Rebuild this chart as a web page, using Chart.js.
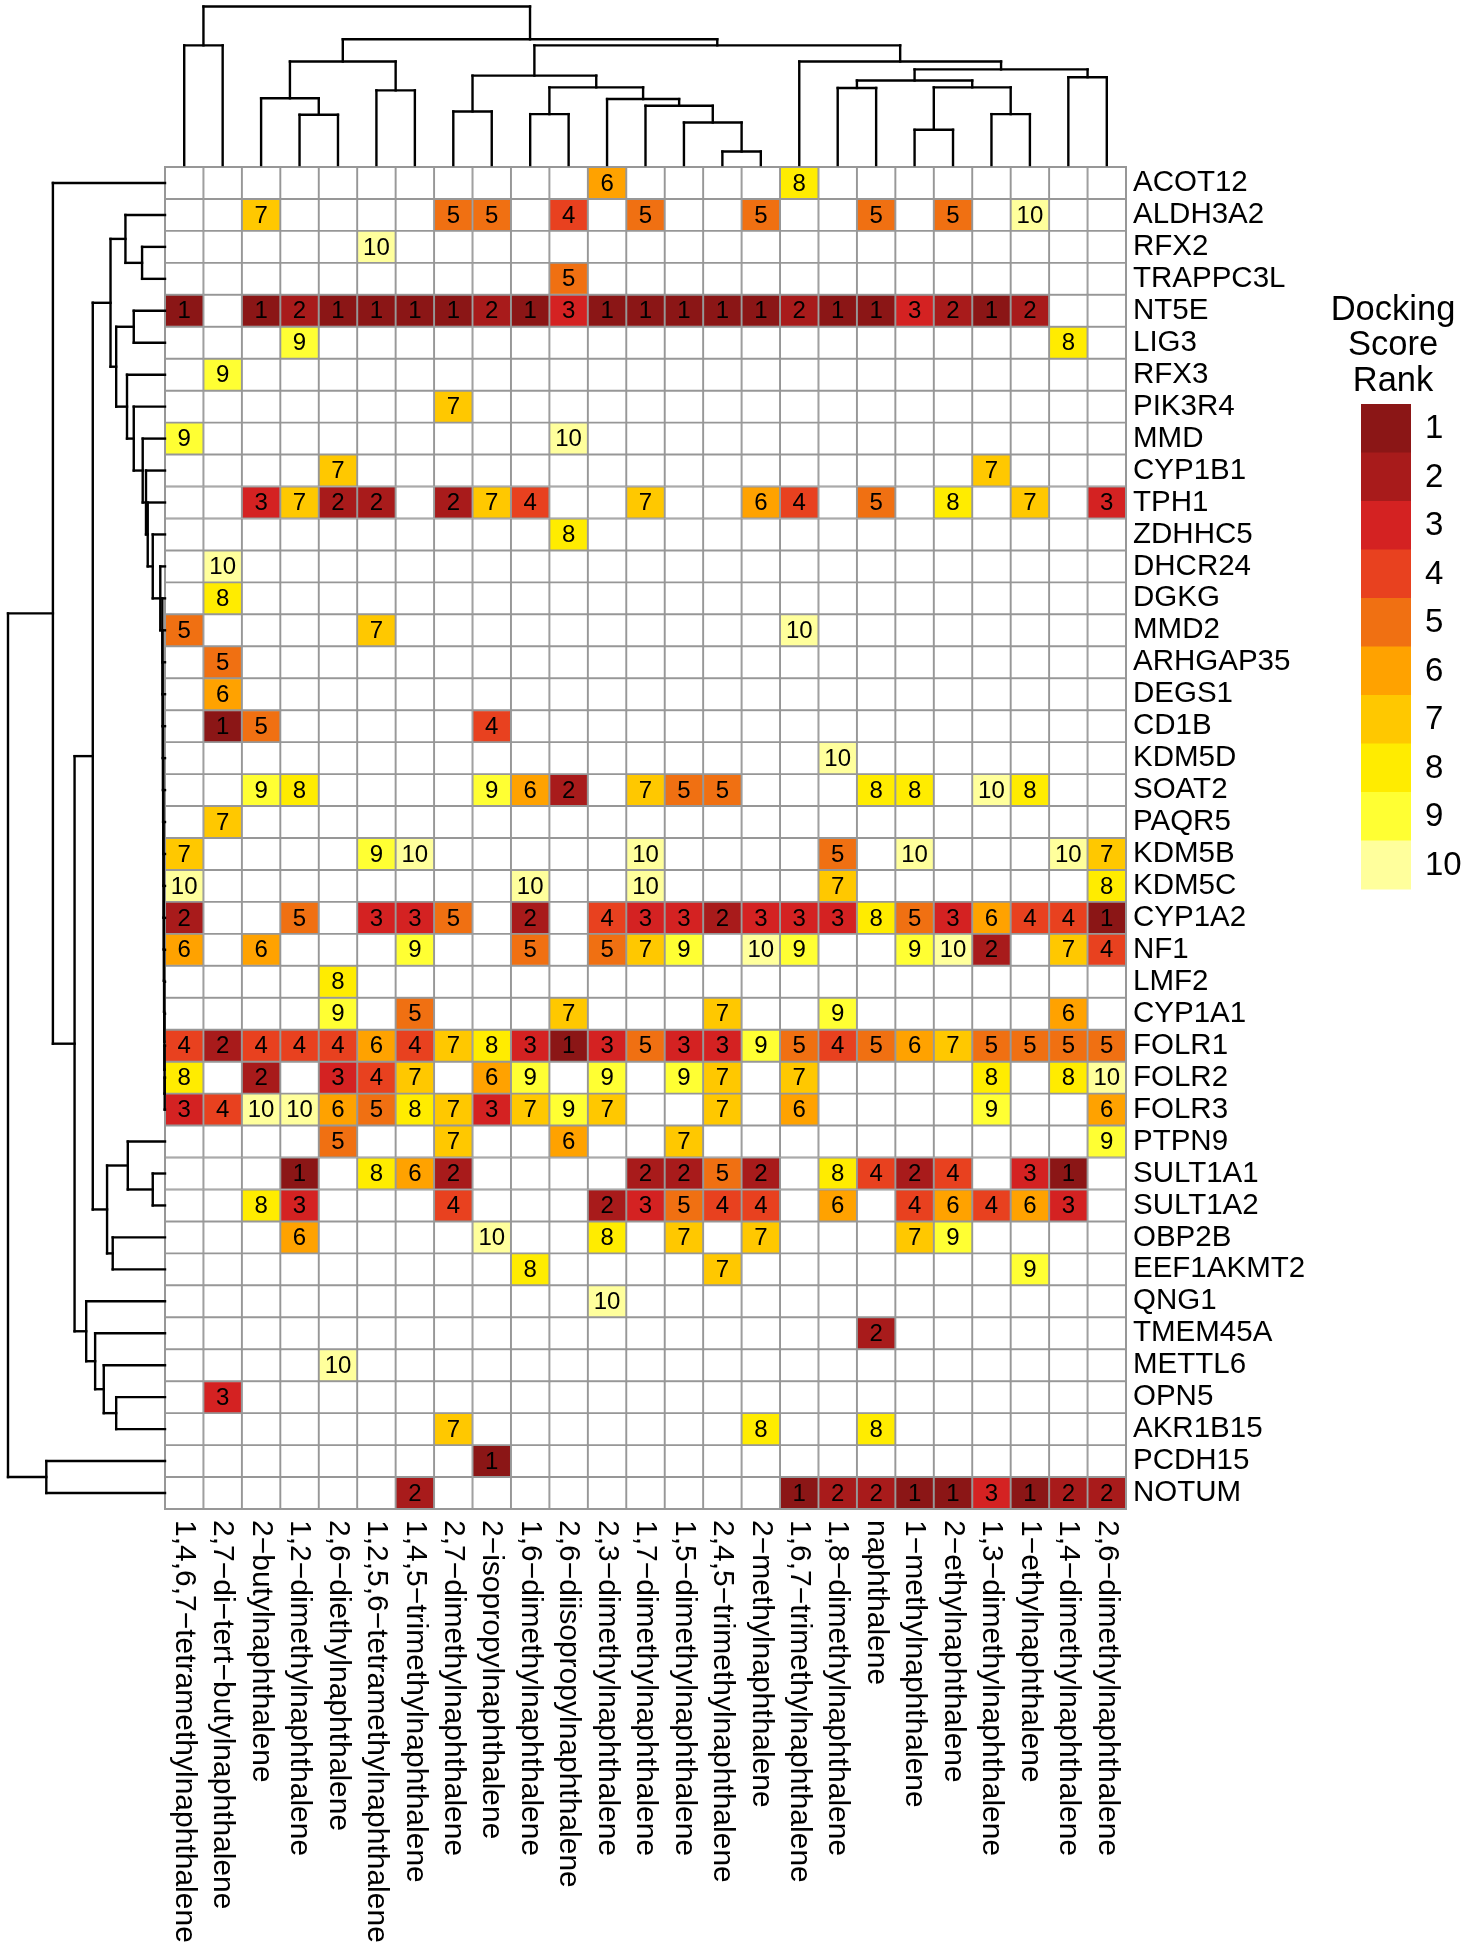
<!DOCTYPE html>
<html>
<head>
<meta charset="utf-8">
<title>Docking score rank heatmap</title>
<script src="https://cdn.jsdelivr.net/npm/chart.js@4.4.1/dist/chart.umd.min.js"></script>
<style>
  html, body { margin: 0; padding: 0; background: #ffffff; overflow: hidden; }
  canvas { display: block; }
</style>
</head>
<body>
<canvas id="heatmap" width="1470" height="1950"></canvas>
<script>
// Columns (compounds), in dendrogram order
const compounds = [
    '1,4,6,7−tetramethylnaphthalene', '2,7−di−tert−butylnaphthalene', '2−butylnaphthalene',
    '1,2−dimethylnaphthalene', '2,6−diethylnaphthalene', '1,2,5,6−tetramethylnaphthalene',
    '1,4,5−trimethylnaphthalene', '2,7−dimethylnaphthalene', '2−isopropylnaphthalene',
    '1,6−dimethylnaphthalene', '2,6−diisopropylnaphthalene', '2,3−dimethylnaphthalene',
    '1,7−dimethylnaphthalene', '1,5−dimethylnaphthalene', '2,4,5−trimethylnaphthalene',
    '2−methylnaphthalene', '1,6,7−trimethylnaphthalene', '1,8−dimethylnaphthalene',
    'naphthalene', '1−methylnaphthalene', '2−ethylnaphthalene', '1,3−dimethylnaphthalene',
    '1−ethylnaphthalene', '1,4−dimethylnaphthalene', '2,6−dimethylnaphthalene'
];

// Rows (target genes), in dendrogram order
const genes = [
    'ACOT12', 'ALDH3A2', 'RFX2', 'TRAPPC3L', 'NT5E', 'LIG3', 'RFX3', 'PIK3R4', 'MMD',
    'CYP1B1', 'TPH1', 'ZDHHC5', 'DHCR24', 'DGKG', 'MMD2', 'ARHGAP35', 'DEGS1', 'CD1B',
    'KDM5D', 'SOAT2', 'PAQR5', 'KDM5B', 'KDM5C', 'CYP1A2', 'NF1', 'LMF2', 'CYP1A1',
    'FOLR1', 'FOLR2', 'FOLR3', 'PTPN9', 'SULT1A1', 'SULT1A2', 'OBP2B', 'EEF1AKMT2',
    'QNG1', 'TMEM45A', 'METTL6', 'OPN5', 'AKR1B15', 'PCDH15', 'NOTUM'
];

// Docking score rank per gene (row) and compound (column); _ = not in top 10
const _ = null;
const ranks = [
    [_,_,_,_,_,_,_,_,_,_,_,6,_,_,_,_,8,_,_,_,_,_,_,_,_],        // ACOT12
    [_,_,7,_,_,_,_,5,5,_,4,_,5,_,_,5,_,_,5,_,5,_,10,_,_],       // ALDH3A2
    [_,_,_,_,_,10,_,_,_,_,_,_,_,_,_,_,_,_,_,_,_,_,_,_,_],       // RFX2
    [_,_,_,_,_,_,_,_,_,_,5,_,_,_,_,_,_,_,_,_,_,_,_,_,_],        // TRAPPC3L
    [1,_,1,2,1,1,1,1,2,1,3,1,1,1,1,1,2,1,1,3,2,1,2,_,_],        // NT5E
    [_,_,_,9,_,_,_,_,_,_,_,_,_,_,_,_,_,_,_,_,_,_,_,8,_],        // LIG3
    [_,9,_,_,_,_,_,_,_,_,_,_,_,_,_,_,_,_,_,_,_,_,_,_,_],        // RFX3
    [_,_,_,_,_,_,_,7,_,_,_,_,_,_,_,_,_,_,_,_,_,_,_,_,_],        // PIK3R4
    [9,_,_,_,_,_,_,_,_,_,10,_,_,_,_,_,_,_,_,_,_,_,_,_,_],       // MMD
    [_,_,_,_,7,_,_,_,_,_,_,_,_,_,_,_,_,_,_,_,_,7,_,_,_],        // CYP1B1
    [_,_,3,7,2,2,_,2,7,4,_,_,7,_,_,6,4,_,5,_,8,_,7,_,3],        // TPH1
    [_,_,_,_,_,_,_,_,_,_,8,_,_,_,_,_,_,_,_,_,_,_,_,_,_],        // ZDHHC5
    [_,10,_,_,_,_,_,_,_,_,_,_,_,_,_,_,_,_,_,_,_,_,_,_,_],       // DHCR24
    [_,8,_,_,_,_,_,_,_,_,_,_,_,_,_,_,_,_,_,_,_,_,_,_,_],        // DGKG
    [5,_,_,_,_,7,_,_,_,_,_,_,_,_,_,_,10,_,_,_,_,_,_,_,_],       // MMD2
    [_,5,_,_,_,_,_,_,_,_,_,_,_,_,_,_,_,_,_,_,_,_,_,_,_],        // ARHGAP35
    [_,6,_,_,_,_,_,_,_,_,_,_,_,_,_,_,_,_,_,_,_,_,_,_,_],        // DEGS1
    [_,1,5,_,_,_,_,_,4,_,_,_,_,_,_,_,_,_,_,_,_,_,_,_,_],        // CD1B
    [_,_,_,_,_,_,_,_,_,_,_,_,_,_,_,_,_,10,_,_,_,_,_,_,_],       // KDM5D
    [_,_,9,8,_,_,_,_,9,6,2,_,7,5,5,_,_,_,8,8,_,10,8,_,_],       // SOAT2
    [_,7,_,_,_,_,_,_,_,_,_,_,_,_,_,_,_,_,_,_,_,_,_,_,_],        // PAQR5
    [7,_,_,_,_,9,10,_,_,_,_,_,10,_,_,_,_,5,_,10,_,_,_,10,7],    // KDM5B
    [10,_,_,_,_,_,_,_,_,10,_,_,10,_,_,_,_,7,_,_,_,_,_,_,8],     // KDM5C
    [2,_,_,5,_,3,3,5,_,2,_,4,3,3,2,3,3,3,8,5,3,6,4,4,1],        // CYP1A2
    [6,_,6,_,_,_,9,_,_,5,_,5,7,9,_,10,9,_,_,9,10,2,_,7,4],      // NF1
    [_,_,_,_,8,_,_,_,_,_,_,_,_,_,_,_,_,_,_,_,_,_,_,_,_],        // LMF2
    [_,_,_,_,9,_,5,_,_,_,7,_,_,_,7,_,_,9,_,_,_,_,_,6,_],        // CYP1A1
    [4,2,4,4,4,6,4,7,8,3,1,3,5,3,3,9,5,4,5,6,7,5,5,5,5],        // FOLR1
    [8,_,2,_,3,4,7,_,6,9,_,9,_,9,7,_,7,_,_,_,_,8,_,8,10],       // FOLR2
    [3,4,10,10,6,5,8,7,3,7,9,7,_,_,7,_,6,_,_,_,_,9,_,_,6],      // FOLR3
    [_,_,_,_,5,_,_,7,_,_,6,_,_,7,_,_,_,_,_,_,_,_,_,_,9],        // PTPN9
    [_,_,_,1,_,8,6,2,_,_,_,_,2,2,5,2,_,8,4,2,4,_,3,1,_],        // SULT1A1
    [_,_,8,3,_,_,_,4,_,_,_,2,3,5,4,4,_,6,_,4,6,4,6,3,_],        // SULT1A2
    [_,_,_,6,_,_,_,_,10,_,_,8,_,7,_,7,_,_,_,7,9,_,_,_,_],       // OBP2B
    [_,_,_,_,_,_,_,_,_,8,_,_,_,_,7,_,_,_,_,_,_,_,9,_,_],        // EEF1AKMT2
    [_,_,_,_,_,_,_,_,_,_,_,10,_,_,_,_,_,_,_,_,_,_,_,_,_],       // QNG1
    [_,_,_,_,_,_,_,_,_,_,_,_,_,_,_,_,_,_,2,_,_,_,_,_,_],        // TMEM45A
    [_,_,_,_,10,_,_,_,_,_,_,_,_,_,_,_,_,_,_,_,_,_,_,_,_],       // METTL6
    [_,3,_,_,_,_,_,_,_,_,_,_,_,_,_,_,_,_,_,_,_,_,_,_,_],        // OPN5
    [_,_,_,_,_,_,_,7,_,_,_,_,_,_,_,8,_,_,8,_,_,_,_,_,_],        // AKR1B15
    [_,_,_,_,_,_,_,_,1,_,_,_,_,_,_,_,_,_,_,_,_,_,_,_,_],        // PCDH15
    [_,_,_,_,_,_,2,_,_,_,_,_,_,_,_,_,1,2,2,1,1,3,1,2,2]         // NOTUM
];

// Colour legend: rank 1..10
const rankLevels = [1, 2, 3, 4, 5, 6, 7, 8, 9, 10];
const rankColors = [
    '#8b1616', '#a81b1b', '#d42222', '#e8411f', '#f07012',
    '#ffa200', '#ffc800', '#ffec00', '#ffff33', '#ffff9c'
];
const legendTitle = ['Docking', 'Score', 'Rank'];

// Column dendrogram, hclust style merges: negative = leaf (column), positive = earlier merge
const colMerge = [
    [-15, -16, 0.085], [-20, -21, 0.222], [-14, 1, 0.268], [-4, -5, 0.317],
    [-10, -11, 0.321], [-22, -23, 0.321], [-8, -9, 0.338], [-13, 3, 0.374],
    [-12, 8, 0.416], [-3, 4, 0.421], [-6, -7, 0.471], [-18, -19, 0.486],
    [5, 9, 0.49], [2, 6, 0.49], [12, 14, 0.533], [-24, -25, 0.554],
    [7, 13, 0.564], [15, 16, 0.603], [10, 11, 0.653], [-17, 18, 0.653],
    [17, 20, 0.755], [-1, -2, 0.755], [19, 21, 0.793], [22, 23, 1]
];

// Row dendrogram, same convention (leaf = gene row)
const rowMerge = [
    [-29, -30, 0.002], [-28, 1, 0.003], [-27, 2, 0.004], [-26, 3, 0.005],
    [-25, 4, 0.006], [-24, 5, 0.007], [-23, 6, 0.008], [-22, 7, 0.009],
    [-21, 8, 0.010], [-20, 9, 0.011], [-19, 10, 0.012], [-18, 11, 0.013],
    [-17, 12, 0.014], [-16, 13, 0.015], [-15, 14, 0.016], [-14, 15, 0.017],
    [-13, 16, 0.030], [-12, 17, 0.078], [-11, 18, 0.110], [-10, 19, 0.121],
    [-9, 20, 0.142], [-8, 21, 0.199], [-7, 22, 0.242], [-5, -6, 0.199],
    [24, 23, 0.311], [-3, -4, 0.146], [-2, 26, 0.252], [27, 25, 0.347],
    [-32, -33, 0.078], [-31, 29, 0.237], [-34, -35, 0.333], [30, 31, 0.369],
    [-39, -40, 0.311], [-38, 33, 0.390], [-37, 34, 0.445], [-36, 35, 0.502],
    [28, 32, 0.460], [37, 36, 0.576], [-1, 38, 0.714], [-41, -42, 0.756],
    [39, 40, 1]
];

const FONT = '"Liberation Sans", Arial, Helvetica, sans-serif';
const GRID_GREY = '#979797';

function rankColor(rank) {
    return rank ? rankColors[rank - 1] : '#ffffff';
}

// Turn a merge table into line segments in (leaf position, height) units
function dendroSegments(merge) {
    const nodes = [];
    const segs = [];
    const info = (id) => id < 0 ? { pos: -id - 1, h: 0 } : nodes[id - 1];
    merge.forEach(([a, b, h]) => {
        const A = info(a);
        const B = info(b);
        segs.push([A.pos, A.h, A.pos, h]);
        segs.push([A.pos, h, B.pos, h]);
        segs.push([B.pos, h, B.pos, B.h]);
        nodes.push({ pos: (A.pos + B.pos) / 2, h: h });
    });
    return segs;
}

const heatmapExtras = {
    id: 'heatmapExtras',
    afterDatasetsDraw(chart) {
        const c = chart.ctx;
        const area = chart.chartArea;

        // outer frame of the grid
        c.save();
        c.strokeStyle = GRID_GREY;
        c.lineWidth = 2;
        c.strokeRect(area.left, area.top, area.right - area.left, area.bottom - area.top);

        // rank numbers inside cells
        c.fillStyle = '#000';
        c.font = '24px ' + FONT;
        c.textAlign = 'center';
        c.textBaseline = 'middle';
        chart.data.datasets.forEach((ds, col) => {
            const meta = chart.getDatasetMeta(col);
            meta.data.forEach((bar, row) => {
                const rank = ranks[row][col];
                if (rank) {
                    c.fillText(String(rank), (bar.x + bar.base) / 2, bar.y + 1);
                }
            });
        });
        c.restore();
    },
    afterDraw(chart) {
        const c = chart.ctx;
        const area = chart.chartArea;
        const xs = chart.scales.x;
        const ys = chart.scales.y;

        c.save();
        c.strokeStyle = '#000';
        c.lineWidth = 2.4;
        c.lineCap = 'square';

        // column dendrogram on top
        const topBase = area.top - 2;
        const topScale = 158.5;
        dendroSegments(colMerge).forEach(([p1, h1, p2, h2]) => {
            c.beginPath();
            c.moveTo(xs.getPixelForValue(p1 + 0.5), topBase - h1 * topScale);
            c.lineTo(xs.getPixelForValue(p2 + 0.5), topBase - h2 * topScale);
            c.stroke();
        });

        // row dendrogram on the left
        const leftBase = area.left;
        const leftScale = 157;
        dendroSegments(rowMerge).forEach(([p1, h1, p2, h2]) => {
            c.beginPath();
            c.moveTo(leftBase - h1 * leftScale, ys.getPixelForValue(p1));
            c.lineTo(leftBase - h2 * leftScale, ys.getPixelForValue(p2));
            c.stroke();
        });

        // rotated compound labels under the grid
        c.fillStyle = '#000';
        c.font = '30px ' + FONT;
        c.textAlign = 'left';
        c.textBaseline = 'middle';
        compounds.forEach((name, col) => {
            c.save();
            c.translate(xs.getPixelForValue(col + 0.5), area.bottom + 11);
            c.rotate(Math.PI / 2);
            c.fillText(name, 0, 0);
            c.restore();
        });

        // colour key
        const keyX = 1361;
        const keyTop = 404;
        const keyW = 50;
        const keyH = 48.5;
        c.font = '34.5px ' + FONT;
        c.textAlign = 'center';
        legendTitle.forEach((line, i) => {
            c.fillText(line, 1393, 310 + i * 35.5);
        });
        c.font = '33px ' + FONT;
        c.textAlign = 'left';
        rankLevels.forEach((level, i) => {
            c.fillStyle = rankColor(level);
            c.fillRect(keyX, keyTop + i * keyH, keyW, keyH + 0.5);
            c.fillStyle = '#000';
            c.fillText(String(level), keyX + 64, keyTop + (i + 0.5) * keyH + 1);
        });
        c.restore();
    }
};

const ctx = document.getElementById('heatmap').getContext('2d');

const heatmap = new Chart(ctx, {
    type: 'bar',
    data: {
        labels: genes,
        datasets: compounds.map((name, col) => ({
            label: name,
            data: genes.map(() => [col, col + 1]),
            backgroundColor: genes.map((g, row) => rankColor(ranks[row][col])),
            borderColor: GRID_GREY,
            borderWidth: 1.3,
            borderSkipped: false,
            barPercentage: 1,
            categoryPercentage: 1,
            grouped: false
        }))
    },
    options: {
        indexAxis: 'y',
        responsive: false,
        animation: false,
        devicePixelRatio: 1,
        layout: {
            padding: { left: 165, top: 167, right: 0, bottom: 441 }
        },
        plugins: {
            legend: { display: false },
            tooltip: { enabled: false }
        },
        scales: {
            x: {
                type: 'linear',
                min: 0,
                max: compounds.length,
                display: false
            },
            y: {
                type: 'category',
                position: 'right',
                grid: { display: false, drawTicks: false },
                border: { display: false },
                ticks: {
                    color: '#000',
                    autoSkip: false,
                    padding: 7,
                    font: { family: FONT, size: 29.5 }
                },
                afterFit: (scale) => {
                    scale.width = 344;
                }
            }
        }
    },
    plugins: [heatmapExtras]
});
</script>
</body>
</html>
